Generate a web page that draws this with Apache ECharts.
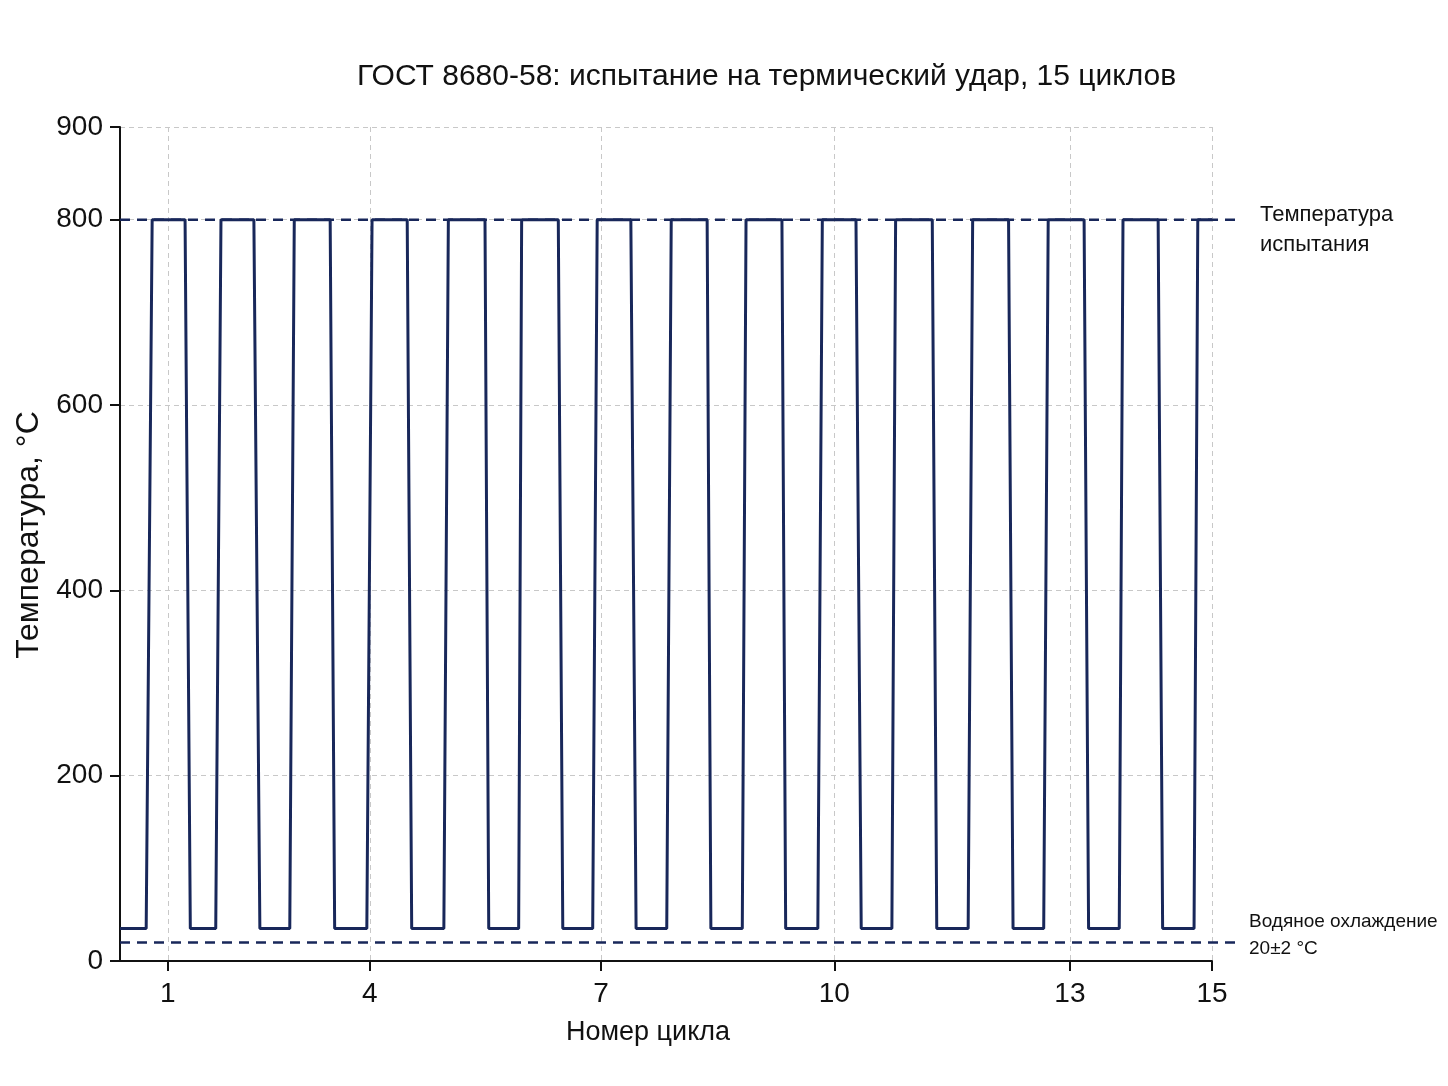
<!DOCTYPE html>
<html>
<head>
<meta charset="utf-8">
<title>ГОСТ 8680-58</title>
<script src="https://cdn.jsdelivr.net/npm/echarts@6/dist/echarts.min.js"></script>
<style>
  html, body { margin: 0; padding: 0; background: #fff; }
  #chart { width: 1448px; height: 1086px; }
</style>
</head>
<body>
<div id="chart"></div>
<script>
// уровни температуры, °C
const hotLevel = 800
const coolLevel = 35
const waterLevel = 20

// границы участков каждого цикла (условное время, 1 ед. ≈ 1 цикл)
const lowStart  = [0, 0.94, 1.87, 2.87, 3.90, 4.93, 5.92, 6.90, 7.90, 8.90, 9.91, 10.92, 11.94, 12.95, 13.94]
const lowEnd    = [0.35, 1.28, 2.27, 3.30, 4.33, 5.33, 6.32, 7.31, 8.32, 9.33, 10.32, 11.34, 12.35, 13.36, 14.36]
const highStart = [0.43, 1.35, 2.33, 3.37, 4.39, 5.37, 6.38, 7.37, 8.37, 9.39, 10.37, 11.40, 12.41, 13.41, 14.41]
const highEnd   = [0.87, 1.79, 2.81, 3.84, 4.88, 5.86, 6.83, 7.85, 8.85, 9.84, 10.86, 11.88, 12.89, 13.88, 14.60]

// подписи осей
const xTickValues = [0.64, 3.34, 6.43, 9.55, 12.70, 14.60]
const xTickLabels = ['1', '4', '7', '10', '13', '15']
const yTickValues = [0, 200, 400, 600, 800, 900]

const lineColor = '#18275a'
const font = "'Liberation Sans', Arial, sans-serif"

const profile = []
lowStart.forEach((x, i) => {
  profile.push([x, coolLevel])
  profile.push([lowEnd[i], coolLevel])
  profile.push([highStart[i], hotLevel])
  profile.push([highEnd[i], hotLevel])
})

const chart = echarts.init(document.getElementById('chart'))

const option = {
  animation: false,
  backgroundColor: '#fff',
  textStyle: { fontFamily: font, color: '#111' },
  title: {
    text: 'ГОСТ 8680-58: испытание на термический удар, 15 циклов',
    left: 352,
    top: 57,
    textStyle: { fontFamily: font, fontSize: 30, fontWeight: 'normal', color: '#111' }
  },
  grid: [
    { left: 120, right: 236, top: 127, bottom: 125 },
    { left: 120, right: 208, top: 127, bottom: 125 }
  ],
  xAxis: [
    {
      type: 'value',
      gridIndex: 0,
      min: 0,
      max: 14.6,
      name: 'Номер цикла',
      nameLocation: 'middle',
      nameGap: 58,
      nameTextStyle: { fontFamily: font, fontSize: 27, color: '#111', padding: [0, 36, 0, 0] },
      axisLine: { lineStyle: { color: '#111', width: 2 } },
      axisTick: { customValues: xTickValues, length: 10, lineStyle: { color: '#111', width: 2 } },
      axisLabel: {
        customValues: xTickValues,
        margin: 19,
        fontFamily: font,
        fontSize: 28,
        color: '#111',
        formatter: v => xTickLabels[xTickValues.indexOf(v)]
      },
      splitLine: { show: true, lineStyle: { color: '#c8c8c8', width: 1, type: [5, 4] } }
    },
    { type: 'value', gridIndex: 1, min: 0, max: 1, show: false }
  ],
  yAxis: [
    {
      type: 'value',
      gridIndex: 0,
      min: 0,
      max: 900,
      name: 'Температура, °C',
      nameLocation: 'middle',
      nameGap: 68,
      nameTextStyle: { fontFamily: font, fontSize: 32, color: '#111', padding: [0, 0, 0, 18] },
      axisLine: { show: true, lineStyle: { color: '#111', width: 2 } },
      axisTick: { show: true, customValues: yTickValues, length: 10, lineStyle: { color: '#111', width: 2 } },
      axisLabel: { customValues: yTickValues, margin: 17, fontFamily: font, fontSize: 28, color: '#111' },
      splitLine: { show: true, lineStyle: { color: '#c8c8c8', width: 1, type: [5, 4] } }
    },
    { type: 'value', gridIndex: 1, min: 0, max: 900, show: false }
  ],
  series: [
    {
      name: 'Режим',
      type: 'line',
      xAxisIndex: 0,
      yAxisIndex: 0,
      data: profile,
      showSymbol: false,
      lineStyle: { color: lineColor, width: 3 },
      z: 3
    },
    {
      name: 'Температура испытания',
      type: 'line',
      xAxisIndex: 1,
      yAxisIndex: 1,
      data: [[0, hotLevel], [1, hotLevel]],
      showSymbol: false,
      lineStyle: { color: lineColor, width: 2.5, type: [10, 7] },
      endLabel: {
        show: true,
        formatter: 'Температура\nиспытания',
        distance: 20,
        offset: [0, 10],
        fontFamily: font,
        fontSize: 22,
        lineHeight: 30,
        color: '#111',
        align: 'left'
      },
      z: 2
    },
    {
      name: 'Водяное охлаждение',
      type: 'line',
      xAxisIndex: 1,
      yAxisIndex: 1,
      data: [[0, waterLevel], [1, waterLevel]],
      showSymbol: false,
      lineStyle: { color: lineColor, width: 2.5, type: [10, 7] },
      endLabel: {
        show: true,
        formatter: 'Водяное охлаждение\n20±2 °C',
        distance: 9,
        offset: [0, -7],
        fontFamily: font,
        fontSize: 19,
        lineHeight: 27,
        color: '#111',
        align: 'left'
      },
      z: 2
    }
  ]
}

chart.setOption(option)
window.addEventListener('resize', () => chart.resize())
</script>
</body>
</html>
